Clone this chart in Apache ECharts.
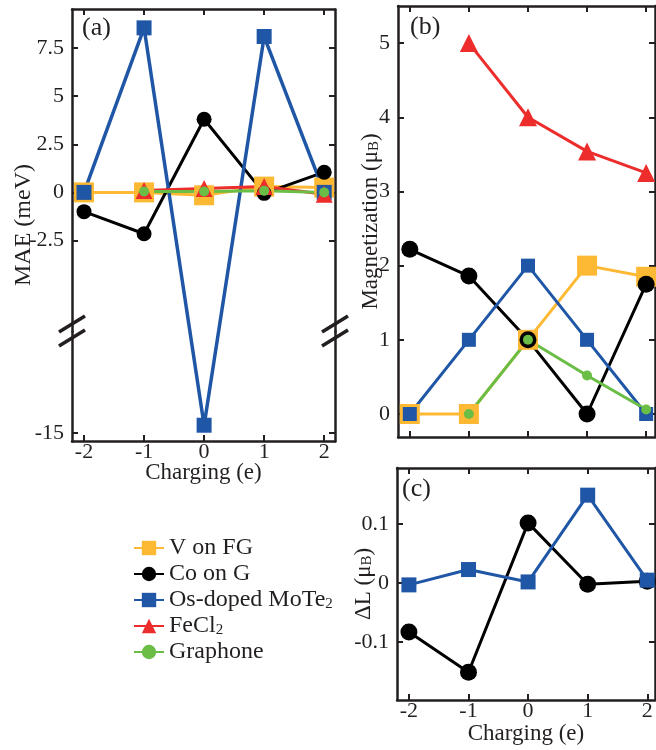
<!DOCTYPE html>
<html>
<head>
<meta charset="utf-8">
<script src="https://cdn.jsdelivr.net/npm/echarts@6/dist/echarts.min.js"></script>
<style>html,body{margin:0;background:#fff}#main{width:656px;height:750px}</style>
</head>
<body>
<div id="main"></div>
<script>
// charging states (e)
var charges = [-2, -1, 0, 1, 2];
var names = ['V on FG', 'Co on G', 'Os-doped MoTe2', 'FeCl2', 'Graphone'];

// (a) MAE (meV)
var maeV  = [0, 0, -0.15, 0.3, 0.25];
var maeCo = [-1.0, -2.15, 3.8, -0.05, 1.05];
var maeOs = [0, 8.55, -14.6, 8.1, 0];
var maeFe = [null, 0.1, 0.2, 0.3, -0.1];
var maeGr = [null, 0.05, 0.05, 0.08, 0.0];
var maeTicks = [-15, -2.5, 0, 2.5, 5, 7.5];

// (b) Magnetization (muB)
var magV  = [0, 0, 1.0, 2.0, 1.85];
var magCo = [2.22, 1.86, 1.0, 0.0, 1.75];
var magOs = [0, 1, 2, 1, 0];
var magFe = [null, 5.0, 4.0, 3.54, 3.25];
var magGr = [null, 0, 1.0, 0.52, 0.06];
var magTicks = [0, 1, 2, 3, 4, 5];

// (c) delta L (muB)
var dlCo = [-0.083, -0.151, 0.102, -0.002, 0.003];
var dlOs = [-0.003, 0.023, 0.002, 0.149, 0.005];
var dlTicks = [-0.1, 0, 0.1];

var FONT = 'Liberation Serif';
var INK = '#231f20';
var colors = {
  'V on FG': '#fdb933',
  'Co on G': '#000000',
  'Os-doped MoTe2': '#1f56a6',
  'FeCl2': '#ec2d2b',
  'Graphone': '#6abd45'
};
var symbols = {
  'V on FG': 'rect',
  'Co on G': 'circle',
  'Os-doped MoTe2': 'rect',
  'FeCl2': 'triangle',
  'Graphone': 'circle'
};

function pairs(vals) {
  var out = [];
  charges.forEach(function (c, i) { if (vals[i] != null) out.push([c, vals[i]]); });
  return out;
}

function mkSeries(name, vals, axisIdx, size, lw) {
  return {
    name: name, type: 'line',
    xAxisIndex: axisIdx, yAxisIndex: axisIdx,
    data: pairs(vals),
    symbol: symbols[name], symbolSize: size,
    itemStyle: { color: colors[name] },
    lineStyle: { color: colors[name], width: lw },
    emphasis: { disabled: true },
    animation: false
  };
}

var line = { show: true, onZero: false, lineStyle: { color: INK, width: 2.5 } };
var tick = { show: true, inside: true, length: 6, lineStyle: { color: INK, width: 2 } };
var lab = { color: INK, fontFamily: FONT, fontSize: 22 };
var subRich = { s: { fontFamily: FONT, fontSize: 15, color: INK, lineHeight: 15, verticalAlign: 'bottom' } };

function xAxes(grid, min, max, showLabels, nameGap) {
  var base = {
    type: 'value', gridIndex: grid, min: min, max: max,
    axisLine: line, splitLine: { show: false }
  };
  var bottom = Object.assign({}, base, {
    position: 'bottom',
    axisTick: Object.assign({ customValues: charges }, tick),
    axisLabel: Object.assign({ show: showLabels, margin: 0, customValues: charges }, lab),
    name: showLabels ? 'Charging (e)' : '',
    nameLocation: 'middle', nameGap: nameGap, nameMoveOverlap: false,
    nameTextStyle: { color: INK, fontFamily: FONT, fontSize: 23 }
  });
  var top = Object.assign({}, base, {
    position: 'top',
    axisTick: Object.assign({ customValues: charges }, tick),
    axisLabel: { show: false }
  });
  return [bottom, top];
}

function yAxes(grid, min, max, ticks, name, nameGap, nameSize, extra) {
  var base = Object.assign({
    type: 'value', gridIndex: grid, min: min, max: max,
    axisLine: line, splitLine: { show: false }
  }, extra || {});
  var left = Object.assign({}, base, {
    position: 'left',
    axisTick: Object.assign({ customValues: ticks }, tick),
    axisLabel: Object.assign({ margin: 8, customValues: ticks }, lab),
    name: name, nameLocation: 'middle', nameGap: nameGap, nameRotate: 90,
    nameMoveOverlap: false,
    nameTextStyle: { color: INK, fontFamily: FONT, fontSize: nameSize, lineHeight: nameSize, rich: subRich }
  });
  var right = Object.assign({}, base, {
    position: 'right',
    axisTick: Object.assign({ customValues: ticks }, tick),
    axisLabel: { show: false }
  });
  return [left, right];
}

var maeBreak = {
  breaks: [{ start: -9.7, end: -7.2, gap: 0 }],
  breakArea: { show: false }
};

var xa = xAxes(0, -2.2, 2.18, true, 20);
var xb = xAxes(1, -2.2, 2.15, false, 20);
var xc = xAxes(2, -2.2, 2.13, true, 22);
var ya = yAxes(0, -15.42, 9.53, maeTicks, 'MAE (meV)', 36, 24, maeBreak);
var yb = yAxes(1, -0.31, 5.5, magTicks, 'Magnetization (\u03bc{s|B})', 16, 23);
var yc = yAxes(2, -0.198, 0.195, dlTicks, '\u0394L (\u03bc{s|B})', 22, 23);

var series = [
  mkSeries(names[0], maeV, 0, 20, 3),
  mkSeries(names[1], maeCo, 0, 15, 3),
  mkSeries(names[2], maeOs, 0, 15, 3.5),
  mkSeries(names[3], maeFe, 0, 17, 3),
  mkSeries(names[4], maeGr, 0, 10, 3),
  mkSeries(names[0], magV, 2, 20, 3),
  mkSeries(names[1], magCo, 2, 17, 3),
  mkSeries(names[2], magOs, 2, 14, 3),
  mkSeries(names[3], magFe, 2, 18, 3),
  mkSeries(names[4], magGr, 2, 10, 3),
  mkSeries(names[1], dlCo, 4, 17, 3),
  mkSeries(names[2], dlOs, 4, 15, 3)
];
// axis index mapping: grid a -> x0/y0, grid b -> x2/y2, grid c -> x4/y4

var panelText = { color: INK, fontFamily: FONT, fontSize: 26, fontWeight: 'normal' };

var chart = echarts.init(document.getElementById('main'), null, { renderer: 'canvas' });
chart.setOption({
  animation: false,
  backgroundColor: '#fff',
  title: [
    { text: '(a)', left: 82, top: 15, padding: 0, textStyle: panelText },
    { text: '(b)', left: 410, top: 14, padding: 0, textStyle: panelText },
    { text: '(c)', left: 402, top: 476, padding: 0, textStyle: panelText }
  ],
  grid: [
    { left: 72, top: 9, width: 263, height: 432 },
    { left: 398, top: 6, width: 257, height: 431 },
    { left: 397, top: 468, width: 258, height: 232 }
  ],
  xAxis: xa.concat(xb, xc),
  yAxis: ya.concat(yb, yc),
  legend: {
    data: names,
    orient: 'vertical', left: 128, top: 531,
    itemWidth: 30, itemHeight: 18, itemGap: 2,
    selectedMode: false,
    formatter: function (n) { return n.replace(/2$/, '{s|2}'); },
    textStyle: { color: INK, fontFamily: FONT, fontSize: 24, lineHeight: 24, rich: subRich }
  },
  series: series
});

// break marks on both sides of panel (a)
var p = chart.convertToPixel({ xAxisIndex: 0, yAxisIndex: 0 }, [-2.2, -7.2]);
var p2 = chart.convertToPixel({ xAxisIndex: 0, yAxisIndex: 0 }, [2.18, -7.2]);
function slashes(x, y) {
  var st = { stroke: INK, lineWidth: 3.5 };
  return [
    { type: 'rect', shape: { x: x - 3, y: y - 5, width: 6, height: 10 }, style: { fill: '#fff' } },
    { type: 'line', shape: { x1: x - 13, y1: y + 1, x2: x + 13, y2: y - 15 }, style: st },
    { type: 'line', shape: { x1: x - 13, y1: y + 15, x2: x + 13, y2: y - 1 }, style: st }
  ];
}
chart.setOption({ graphic: slashes(p[0], p[1]).concat(slashes(p2[0], p2[1])) });
</script>
</body>
</html>
